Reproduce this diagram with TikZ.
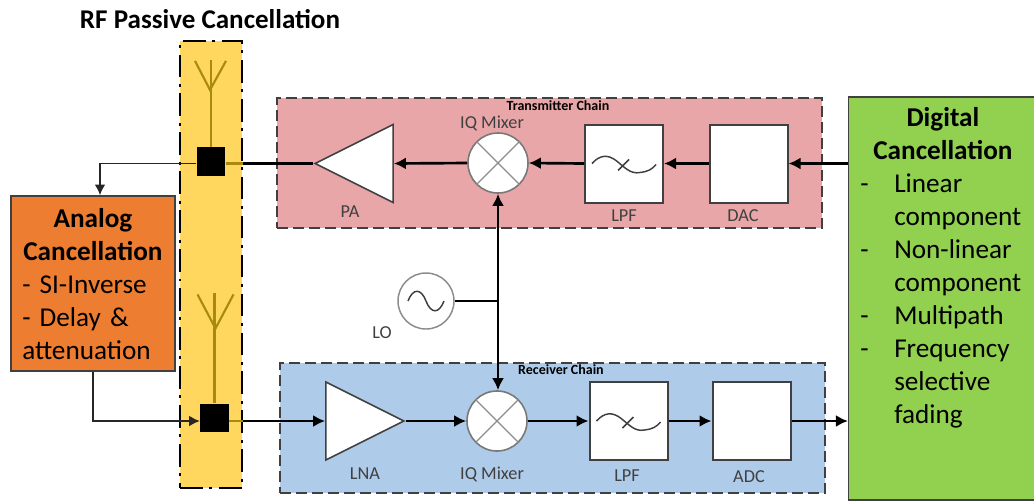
\documentclass[tikz,border=0pt]{standalone}
\usepackage{fontspec}
\setmainfont{Carlito}
\usetikzlibrary{arrows.meta,shapes.geometric,calc}
\definecolor{cyellow}{HTML}{FFD75F}
\definecolor{cpink}{HTML}{E9A6A8}
\definecolor{cblue}{HTML}{AECCEA}
\definecolor{corange}{HTML}{ED7D31}
\definecolor{cgreen}{HTML}{92D050}
\definecolor{cant}{HTML}{A98A10}
\definecolor{cdark}{HTML}{404040}
\newcommand{\bigtxt}{\fontsize{20.4}{24.75}\selectfont}
\tikzset{
  x=.75pt,y=-.75pt,
  chain/.style={rectangle,draw=cdark,line width=1.2pt,dash pattern=on 8pt off 4pt,minimum width=408.75pt,minimum height=97.5pt,inner sep=0},
  band/.style={rectangle,fill=cyellow,draw=black,line width=1.8pt,dash pattern=on 17pt off 5pt on 2.2pt off 5pt,minimum width=46.5pt,minimum height=335pt,inner sep=0},
  blk/.style={rectangle,draw=cdark,fill=white,line width=1.5pt,minimum width=58.5pt,minimum height=58.5pt,inner sep=0},
  tri/.style={isosceles triangle,isosceles triangle stretches,draw=cdark,fill=white,line width=1.2pt,minimum width=58.5pt,minimum height=58.5pt,inner sep=0},
  mixer/.style={circle,draw=cdark!70,fill=white,line width=1.2pt,minimum size=45pt,inner sep=0},
  xline/.style={draw=black!45,line width=1pt},
  lbl/.style={text=cdark,font=\fontsize{13.7}{15}\selectfont,inner sep=0},
  chainlbl/.style={text=black,font=\bfseries\fontsize{10.5}{12}\selectfont,inner sep=0},
  sq/.style={rectangle,fill=black,minimum width=21.5pt,minimum height=21.5pt,inner sep=0},
  ant/.style={draw=cant,line width=1.6pt},
  wire/.style={draw=black,line width=2pt,-{Latex[length=9pt,width=9pt]}},
  plainwire/.style={draw=black,line width=2pt},
  thin/.style={draw=black!85,line width=1.3pt,-{Latex[length=8pt,width=8pt]}},
  sym/.style={draw=cdark,line width=1.1pt},
  bigbox/.style={rectangle,draw=cdark,line width=1.1pt,inner sep=0},
  pics/lpfsym/.style={code={
    \draw[sym] (-32,0) .. controls (-24,-9) and (-16,-9) .. (-8,-3) .. controls (0,3) and (6,11) .. (16,9) .. controls (24,8) and (28,6) .. (32,1);
    \draw[sym] (-6,7) -- (5,-4);
  }},
}
\begin{document}
\begin{tikzpicture}
\useasboundingbox (0,0) rectangle (1034,501);
% backgrounds
\node[band] (yellow) at (211,264.5) {};
\node[chain,fill=cpink] (txchain) at (549.5,163) {};
\node[chain,fill=cblue] (rxchain) at (552.5,428) {};
\node[bigbox,fill=corange,minimum width=123pt,minimum height=131.25pt] (analog) at (93,283.5) {};
\node[bigbox,fill=cgreen,minimum width=140pt,minimum height=302.5pt] (digital) at (942,298.5) {};
% texts of the big boxes
\node[inner sep=0,text width=106pt,align=left,font=\bigtxt,anchor=north west] (analogtxt) at (22,208) {\makebox[\linewidth]{\bfseries Analog}\\\makebox[\linewidth]{\bfseries Cancellation}\\- SI-Inverse\\- Delay \&\\attenuation};
\node[inner sep=0,text width=124pt,align=left,font=\bigtxt,anchor=north west] (digitaltxt) at (860,107) {\makebox[\linewidth]{\bfseries Digital}\\\makebox[\linewidth]{\bfseries Cancellation}\\\makebox[25.5pt][l]{-}Linear\\\hspace*{25.5pt}component\\\makebox[25.5pt][l]{-}Non-linear\\\hspace*{25.5pt}component\\\makebox[25.5pt][l]{-}Multipath\\\makebox[25.5pt][l]{-}Frequency\\\hspace*{25.5pt}selective\\\hspace*{25.5pt}fading};
\node[inner sep=0,font=\bfseries\fontsize{20.3}{24}\selectfont] (title) at (210,19) {RF Passive Cancellation};
% TX chain
\node[tri,shape border rotate=180,anchor=apex] (pa) at (313,163.5) {};
\node[mixer] (txmix) at (498,163) {};
\draw[xline] (txmix.45) -- (txmix.225) (txmix.135) -- (txmix.315);
\node[blk] (txlpf) at (624,163.5) {};
\pic at (txlpf) {lpfsym};
\node[blk] (dac) at (748.5,163.5) {};
\node[lbl] (palbl) at (350,212) {PA};
\node[lbl] (txmixlbl) at (492,123) {IQ Mixer};
\node[lbl] (txlpflbl) at (624,216) {LPF};
\node[lbl] (daclbl) at (743,216) {DAC};
\node[chainlbl] (txlbl) at (558,106) {Transmitter Chain};
% RX chain
\node[tri,anchor=apex] (lna) at (406,421) {};
\node[mixer] (rxmix) at (497,421) {};
\draw[xline] (rxmix.45) -- (rxmix.225) (rxmix.135) -- (rxmix.315);
\node[blk] (rxlpf) at (628.5,421) {};
\pic at (rxlpf) {lpfsym};
\node[blk] (adc) at (751.5,421) {};
\node[lbl] (lnalbl) at (365,474) {LNA};
\node[lbl] (rxmixlbl) at (492,474) {IQ Mixer};
\node[lbl] (rxlpflbl) at (627,476) {LPF};
\node[lbl] (adclbl) at (749,477) {ADC};
\node[chainlbl] (rxlbl) at (561,370) {Receiver Chain};
% LO
\node[circle,draw=black!45,fill=white,line width=1.1pt,minimum size=42pt,inner sep=0] (lo) at (426,301) {};
\draw[sym] (408,301) .. controls (413,288) and (421,288) .. (426,301) .. controls (431,314) and (439,314) .. (444,301);
\node[lbl] (lolbl) at (382,333) {LO};
% antennas and couplers
\node[sq] (txsq) at (211,161.5) {};
\node[sq] (rxsq) at (214.5,418) {};
\draw[ant] (txsq.north) -- ++(0,-87);
\draw[ant] ($(txsq.north)+(-16,-86)$) -- ($(txsq.north)+(-1,-57)$) -- ($(txsq.north)+(15,-86)$);
\draw[ant] (rxsq.north) -- ++(0,-110);
\draw[ant] ($(rxsq.north)+(-17,-109)$) -- ($(rxsq.north)+(1,-75)$) -- ($(rxsq.north)+(19,-109)$);
% connectors
\draw[wire] (digital.west |- dac) -- (dac.east);
\draw[wire] (dac.west) -- (txlpf.east);
\draw[wire] (txlpf.west) -- (txmix.east);
\draw[wire] (txmix.west) -- (pa.east);
\draw[plainwire] (pa.west) -- (pa.west -| yellow.east);
\draw[ant] (pa.west -| yellow.east) -- (pa.west -| txsq.east);
\draw[thin] (pa.west -| txsq.west) -| ([xshift=5.25pt]analog.north);
\draw[plainwire] (lo.east) -- (lo.east -| txmix.south);
\draw[wire,{Latex[length=9pt,width=9pt]}-{Latex[length=9pt,width=9pt]}] (txmix.south) -- (rxmix.north -| txmix.south);
\draw[thin] (analog.south) |- (lna.west -| rxsq.west);
\draw[ant] (rxsq.east |- lna.west) -- (lna.west -| yellow.east);
\draw[wire] (lna.west -| yellow.east) -- (lna.west);
\draw[wire] (lna.east) -- (rxmix.west);
\draw[wire] (rxmix.east) -- (rxlpf.west);
\draw[wire] (rxlpf.east) -- (adc.west);
\draw[wire] (adc.east) -- (adc.east -| digital.west);
\end{tikzpicture}
\end{document}
